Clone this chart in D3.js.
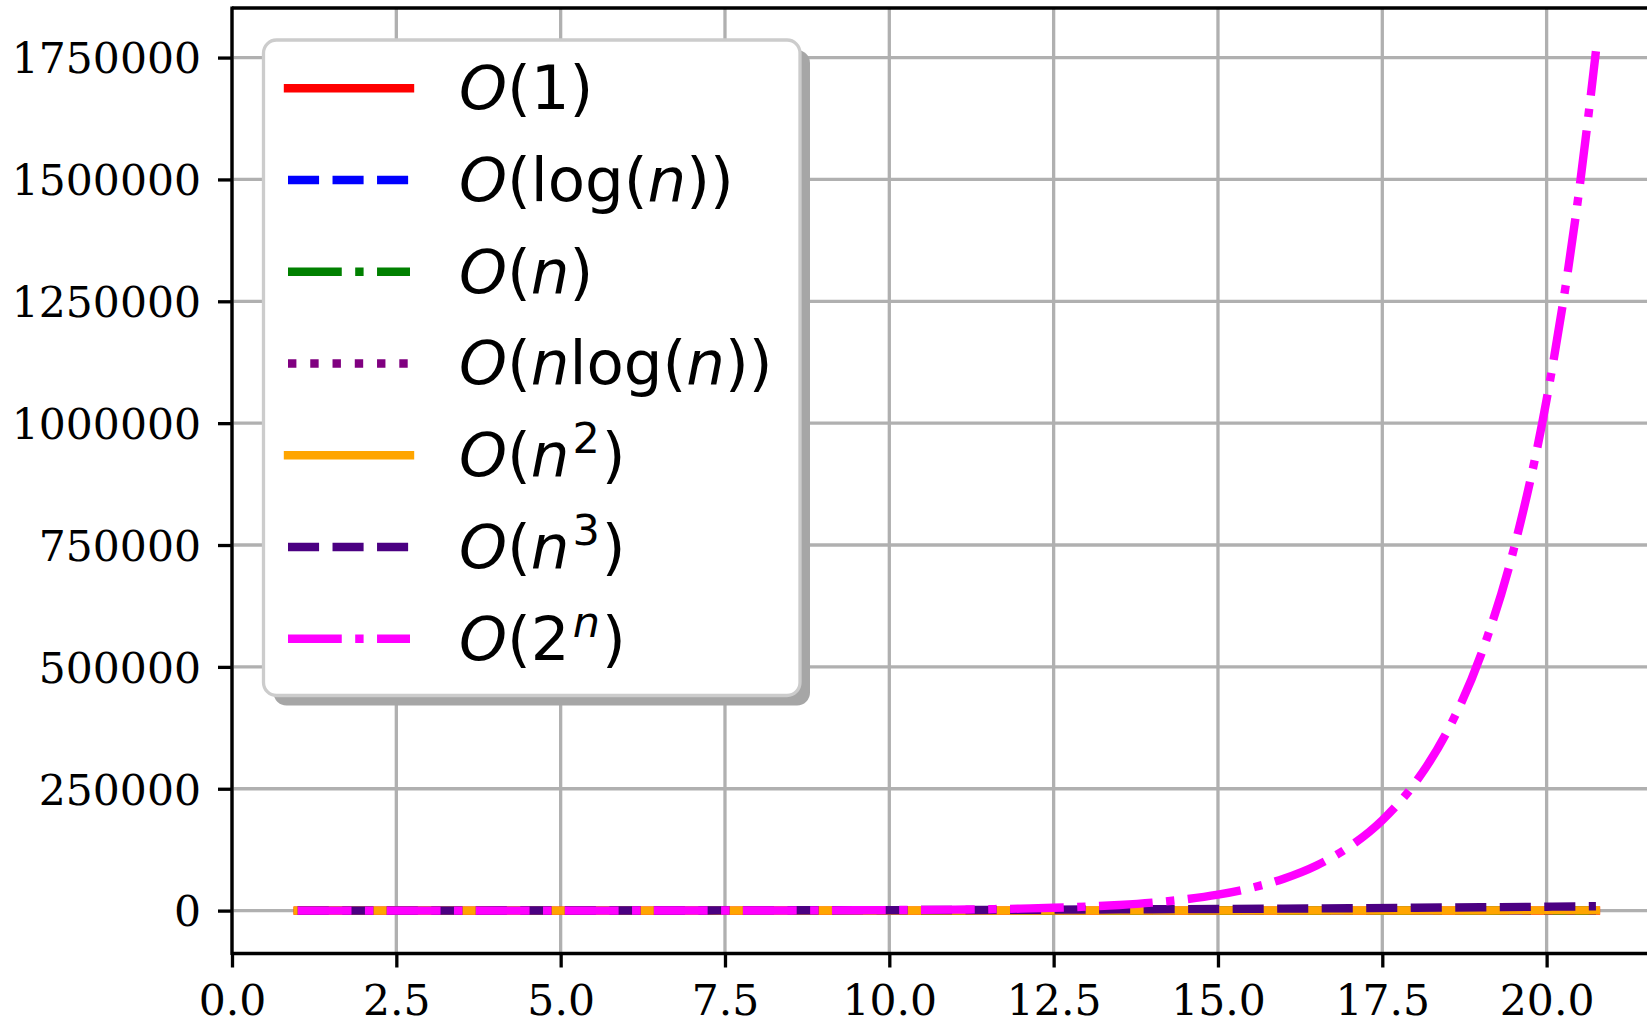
<!DOCTYPE html>
<html>
<head>
<meta charset="utf-8">
<script src="https://cdn.jsdelivr.net/npm/d3@7"></script>
<style>
  html, body { margin: 0; padding: 0; background: #fff; }
  svg { display: block; }
</style>
</head>
<body>
<svg id="chart" width="1647" height="1024"></svg>
<script>
// ---------------- data ----------------
const nValues = [1,2,3,4,5,6,7,8,9,10,11,12,13,14,15,16,17,18,19,20,20.75];
const constantValues = [1,1,1,1,1,1,1,1,1,1,1,1,1,1,1,1,1,1,1,1,1];
const logValues = [0,0.69,1.10,1.39,1.61,1.79,1.95,2.08,2.20,2.30,2.40,2.48,2.56,2.64,2.71,2.77,2.83,2.89,2.94,3.00,3.03];
const linearValues = [1,2,3,4,5,6,7,8,9,10,11,12,13,14,15,16,17,18,19,20,20.75];
const nlognValues = [0,1.39,3.30,5.55,8.05,10.75,13.62,16.64,19.78,23.03,26.38,29.82,33.34,36.95,40.62,44.36,48.16,52.03,55.94,59.91,62.95];
const quadraticValues = [1,4,9,16,25,36,49,64,81,100,121,144,169,196,225,256,289,324,361,400,431];
const cubicValues = [1,8,27,64,125,216,343,512,729,1000,1331,1728,2197,2744,3375,4096,4913,5832,6859,8000,8934];
const expN = [1,2,3,4,5,6,7,8,9,10,11,12,12.5,13,13.5,14,14.5,15,15.5,16,16.5,17,17.5,18,18.5,19,19.5,20,20.5,20.75];
const expValues = [2,4,8,16,32,64,128,256,512,1024,2048,4096,5793,8192,11585,16384,23170,32768,46341,65536,92682,131072,185364,262144,370728,524288,741455,1048576,1482910,1763000];

const xTicks = [0,2.5,5,7.5,10,12.5,15,17.5,20];
const yTicks = [0,250000,500000,750000,1000000,1250000,1500000,1750000];

// legend labels as pieces: [text, style] ; style: "" upright, "i" italic, "s" superscript, "si" italic superscript
const legendLabels = [
  [["O","i"],["(1)",""]],
  [["O","i"],["(log(",""],["n","i"],["))",""]],
  [["O","i"],["(",""],["n","i"],[")",""]],
  [["O","i"],["(",""],["n","i"],["log(",""],["n","i"],["))",""]],
  [["O","i"],["(",""],["n","i"],["2","s"],[")",""]],
  [["O","i"],["(",""],["n","i"],["3","s"],[")",""]],
  [["O","i"],["(2",""],["n","si"],[")",""]]
];

const LW = 8.4;
const series = [
  {x: nValues, y: constantValues, color: "#ff0000", dash: null},
  {x: nValues, y: logValues, color: "#0000ff", dash: [3.7,1.6]},
  {x: nValues, y: linearValues, color: "#008000", dash: [6.4,1.6,1,1.6]},
  {x: nValues, y: nlognValues, color: "#800080", dash: [1,1.65]},
  {x: nValues, y: quadraticValues, color: "#ffa500", dash: null},
  {x: nValues, y: cubicValues, color: "#4b0082", dash: [3.7,1.6]},
  {x: expN, y: expValues, color: "#ff00ff", dash: [6.4,1.6,1,1.6]}
];

// ---------------- layout ----------------
const svg = d3.select("#chart");
const plotLeft = 232, plotTop = 8, plotBottom = 953.5, plotRight = 1661;
const x = d3.scaleLinear().domain([0, 21.74]).range([plotLeft, plotRight]);
const y = d3.scaleLinear().domain([-88000, 1851700]).range([plotBottom, plotTop]);

svg.append("rect").attr("width",1647).attr("height",1024).attr("fill","#fff");

// grid
const grid = svg.append("g");
grid.selectAll("line.gx").data(xTicks).join("line")
  .attr("x1", d => x(d)).attr("x2", d => x(d))
  .attr("y1", plotTop).attr("y2", plotBottom)
  .attr("stroke", "#b0b0b0").attr("stroke-width", 3.3);
grid.selectAll("line.gy").data(yTicks).join("line")
  .attr("x1", plotLeft).attr("x2", plotRight)
  .attr("y1", d => y(d)).attr("y2", d => y(d))
  .attr("stroke", "#b0b0b0").attr("stroke-width", 3.3);

// lines
const line = d3.line().curve(d3.curveMonotoneX);
series.forEach(s => {
  const pts = s.x.map((v,i) => [x(v), y(s.y[i])]);
  svg.append("path")
    .attr("d", line(pts))
    .attr("fill","none")
    .attr("stroke", s.color)
    .attr("stroke-width", LW)
    .attr("stroke-linejoin","round")
    .attr("stroke-linecap", s.dash ? "butt" : "square")
    .attr("stroke-dasharray", s.dash ? s.dash.map(d => d*LW).join(",") : null);
});

// axes
const xAxis = d3.axisBottom(x).tickValues(xTicks).tickFormat(d3.format(".1f")).tickSize(14).tickPadding(6);
const yAxis = d3.axisLeft(y).tickValues(yTicks).tickFormat(d3.format("d")).tickSize(14).tickPadding(17);

const gx = svg.append("g").attr("transform", `translate(0,${plotBottom})`).call(xAxis);
const gy = svg.append("g").attr("transform", `translate(${plotLeft},0)`).call(yAxis);
[gx, gy].forEach(g => {
  g.select(".domain").remove();
  g.selectAll(".tick line").attr("stroke","#000").attr("stroke-width",3.3);
  g.selectAll(".tick text").attr("fill","#000")
    .style("font-family","'DejaVu Serif', serif").style("font-size","42.5px");
});
gx.selectAll(".tick text").attr("dy", null).attr("y", 61);
gy.selectAll(".tick text").attr("dy", "0.36em");

// spines
svg.append("line").attr("x1",plotLeft).attr("x2",plotLeft).attr("y1",plotTop-1.6).attr("y2",plotBottom+1.6)
  .attr("stroke","#000").attr("stroke-width",3.3);
svg.append("line").attr("x1",plotLeft).attr("x2",plotRight).attr("y1",plotBottom).attr("y2",plotBottom)
  .attr("stroke","#000").attr("stroke-width",3.3);
svg.append("line").attr("x1",plotLeft).attr("x2",plotRight).attr("y1",plotTop).attr("y2",plotTop)
  .attr("stroke","#000").attr("stroke-width",3.3);

// legend
const lg = {x0: 263.5, y0: 40, x1: 800, y1: 695.5, r: 13};
const legend = svg.append("g");
legend.append("rect")
  .attr("x", lg.x0 + 10).attr("y", lg.y0 + 10)
  .attr("width", lg.x1 - lg.x0).attr("height", lg.y1 - lg.y0)
  .attr("rx", lg.r).attr("fill", "#a6a6a6");
legend.append("rect")
  .attr("x", lg.x0).attr("y", lg.y0)
  .attr("width", lg.x1 - lg.x0).attr("height", lg.y1 - lg.y0)
  .attr("rx", lg.r).attr("fill", "#fff")
  .attr("stroke", "#cccccc").attr("stroke-width", 3.3);

const rowY0 = 88.2, rowStep = 91.75;
series.forEach((s, i) => {
  const ry = rowY0 + i * rowStep;
  legend.append("line")
    .attr("x1", 288).attr("x2", 410)
    .attr("y1", ry).attr("y2", ry)
    .attr("stroke", s.color).attr("stroke-width", LW)
    .attr("stroke-linecap", s.dash ? "butt" : "square")
    .attr("stroke-dasharray", s.dash ? s.dash.map(d => d*LW).join(",") : null);
  const t = legend.append("text")
    .attr("x", 459).attr("y", ry + 21)
    .style("font-family", "'DejaVu Sans', sans-serif")
    .style("font-size", "61px").attr("fill", "#000");
  let raised = false;
  legendLabels[i].forEach(([txt, st]) => {
    const sp = t.append("tspan").text(txt);
    if (st.includes("i")) sp.style("font-style", "italic");
    if (st.includes("s")) {
      sp.style("font-size", "43px").attr("dy", -23).attr("dx", 3);
      raised = true;
    } else if (raised) {
      sp.attr("dy", 23).attr("dx", 2);
      raised = false;
    }
  });
});
</script>
</body>
</html>
